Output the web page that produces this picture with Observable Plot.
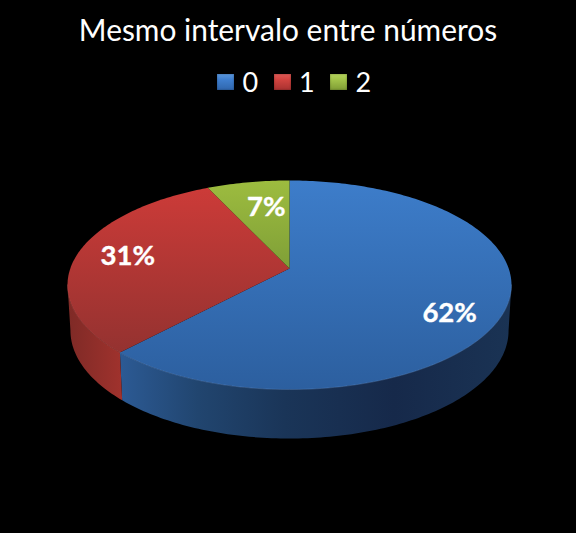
<!DOCTYPE html>
<html>
<head>
<meta charset="utf-8">
<script src="https://cdn.jsdelivr.net/npm/d3@7"></script>
<script src="https://cdn.jsdelivr.net/npm/@observablehq/plot@0.6"></script>
<style>
html,body{margin:0;padding:0;background:#000;overflow:hidden}
body{width:576px;height:533px;font-family:Lato,"Open Sans",sans-serif;color:#fff}
#title{height:60px;line-height:59px;text-align:center;font-size:29.9px;white-space:nowrap}
#legend{height:44px;display:flex;justify-content:center;align-items:center;font-size:27px;line-height:44px;padding-left:11.5px}
#legend .sw{width:17px;height:16px;margin-right:8.5px;margin-top:-1px;box-shadow:inset 0 0 2px rgba(0,0,0,.4)}
#legend .en{margin-right:16px;width:15px;text-align:center}
#legend .en:last-child{margin-right:0}
svg{display:block}
</style>
</head>
<body>
<div id="title"></div>
<div id="legend"></div>
<div id="chart"></div>
<script>
const chartTitle = "Mesmo intervalo entre números";
const categories = ["0", "1", "2"];
const shares = [62, 31, 7];
const labels = ["62%", "31%", "7%"];
const labelBearings = [110.5, 291, 352];
const labelRadii = [0.77, 0.78, 0.75];

const W = 576, H = 429, originX = 289, originY = 164;
const B = 219.2, A = 101.9, P = 0.158;
const swatches = ["#5b97dd 0%,#3f7fcf 35%,#2f66ad 100%", "#dd5a56 0%,#d24440 35%,#a83230 100%", "#b4d35c 0%,#a3c44a 35%,#7f9d35 100%"];

const project = (tDeg, r = 1, p = P, a = A, b = B, drop = 0) => {
  const t = tDeg * Math.PI / 180, u = r * Math.sin(t), v = -r * Math.cos(t), k = 1 - p * v;
  return {x: b * u / k, y: drop + a * v / k};
};
const arc = (from, to) => d3.range(from, to, 1).concat([to]);
const total = d3.sum(shares);
const starts = [];
shares.reduce((acc, s, i) => (starts[i] = acc, acc + s), 0);
const bounds = shares.map((s, i) => [starts[i] / total * 360, (starts[i] + s) / total * 360]);

const wedge = ([a, b]) => [project(0, 0), ...arc(a, b).map((t) => project(t))];
const lower = (t) => project(t, 1, 0.158, 105.3, 216.3, 45);
const wall = (a, b) => [...arc(a, b).map((t) => project(t)), ...arc(a, b).reverse().map(lower)];

const blueEnd = bounds[0][1];
const tangentRight = 99, tangentLeft = 261;
const rimBlue = arc(tangentRight, blueEnd).map((t) => project(t));
const rimRed = arc(blueEnd, tangentLeft).map((t) => project(t));

const ellipseCentre = 16.5;
const labelData = labels.map((text, i) => {
  const t = labelBearings[i] * Math.PI / 180, r = labelRadii[i];
  return {text, x: r * 222 * Math.sin(t), y: ellipseCentre - r * 104.5 * Math.cos(t)};
});

const fig = Plot.plot({
  width: W, height: H,
  margin: 0,
  style: {background: "#000", color: "#fff"},
  x: {domain: [-originX, W - originX], range: [0, W], axis: null},
  y: {domain: [-originY, H - originY], range: [0, H], axis: null},
  marks: [
    Plot.line(wall(tangentRight, blueEnd), {x: "x", y: "y", fill: "url(#wallBlue)"}),
    Plot.line(wall(blueEnd, tangentLeft), {x: "x", y: "y", fill: "url(#wallRed)"}),
    Plot.line(wedge(bounds[0]), {x: "x", y: "y", fill: "url(#topBlue)"}),
    Plot.line(wedge(bounds[1]), {x: "x", y: "y", fill: "url(#topRed)"}),
    Plot.line(wedge(bounds[2]), {x: "x", y: "y", fill: "url(#topGreen)"}),
    Plot.line(rimBlue, {x: "x", y: "y", stroke: "#6f9ad6", strokeWidth: 0.8, strokeOpacity: 0.4}),
    Plot.line(rimRed, {x: "x", y: "y", stroke: "#d86a66", strokeWidth: 0.8, strokeOpacity: 0.35}),
    Plot.text(labelData, {x: "x", y: "y", text: "text", fill: "#fff", fontSize: 27.5, fontWeight: 700,
      fontFamily: "Lato, 'Open Sans', sans-serif", textAnchor: "middle", lineAnchor: "middle",
      stroke: "#fff", strokeWidth: 0.4})
  ]
});

const grads = [
  ["topBlue", [[0, "#3d7dca"], [1, "#2c5f9f"]]],
  ["topRed", [[0, "#cc3b38"], [1, "#943230"]]],
  ["topGreen", [[0, "#9dbc3f"], [1, "#7f9f37"]]],
  ["wallBlue", [[0, "#2c5a94"], [0.2, "#21456f"], [0.42, "#1a3558"], [0.7, "#16294a"], [1, "#1a3354"]]],
  ["wallRed", [[0, "#7e2a26"], [1, "#a0322d"]]]
];
const defs = d3.select(fig).insert("defs", ":first-child");
for (const [id, stops] of grads) {
  const isWall = id.startsWith("wall");
  const g = defs.append("linearGradient").attr("id", id)
    .attr("x1", 0).attr("y1", 0)
    .attr("x2", isWall ? 1 : 0)
    .attr("y2", isWall ? 0 : 1);
  for (const [o, c] of stops) g.append("stop").attr("offset", o).attr("stop-color", c);
}

document.getElementById("chart").append(fig);
document.getElementById("title").textContent = chartTitle;
const legend = d3.select("#legend");
categories.forEach((c, i) => {
  legend.append("span").attr("class", "sw").style("background", `linear-gradient(${swatches[i]})`);
  legend.append("span").attr("class", "en").text(c);
});
</script>
</body>
</html>
